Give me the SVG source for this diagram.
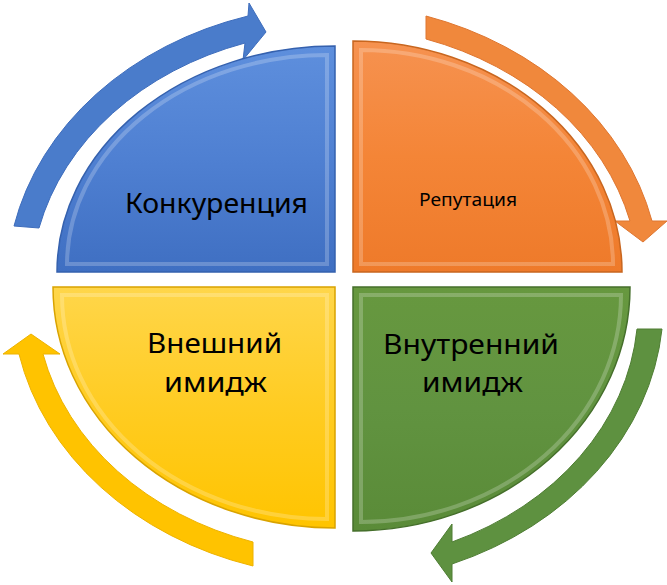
<svg xmlns="http://www.w3.org/2000/svg" width="667" height="585" viewBox="0 0 667 585">
<defs>
<linearGradient id="gBlue" x1="0" y1="0" x2="0" y2="1"><stop offset="0" stop-color="#5E8FDD"/><stop offset="0.5" stop-color="#4F80D2"/><stop offset="1" stop-color="#3F6FC2"/></linearGradient>
<linearGradient id="gOrange" x1="0" y1="0" x2="0" y2="1"><stop offset="0" stop-color="#F69250"/><stop offset="0.5" stop-color="#F48537"/><stop offset="1" stop-color="#EE7A2A"/></linearGradient>
<linearGradient id="gYellow" x1="0" y1="0" x2="0" y2="1"><stop offset="0" stop-color="#FFD64A"/><stop offset="0.5" stop-color="#FFCC22"/><stop offset="1" stop-color="#FFC400"/></linearGradient>
<linearGradient id="gGreen" x1="0" y1="0" x2="0" y2="1"><stop offset="0" stop-color="#67983F"/><stop offset="0.5" stop-color="#619340"/><stop offset="1" stop-color="#5A8B38"/></linearGradient>
<style>
.lbl{font-family:"Noto Sans","Liberation Sans",sans-serif;fill:#000;text-anchor:middle}
.big{font-size:28px}
.small{font-size:18px}
.bevel{fill:none;stroke:#ffffff;stroke-opacity:0.22;stroke-width:4}
.arrow{stroke-width:1}
</style>
</defs>

<g id="connectors">
<path class="arrow" fill="#4A7CCB" stroke="#3E6DBC" d="M14,226 A335,280 0 0 1 248,16 L249,3 L266,32 L243,60 L245,43 A310,256 0 0 0 39,228 Z"/>
<path class="arrow" fill="#F0883C" stroke="#DE7630" d="M426,16 A335,280 0 0 1 652,221 L667,221 L643,242 L615,221 L630,221 A310,256 0 0 0 426,39 Z"/>
<path class="arrow" fill="#5E9140" stroke="#4E7D33" d="M662,329 A335,280 0 0 1 452,564 L452,582 L431,553 L452,524 L452,542 A310,256 0 0 0 637,329 Z"/>
<path class="arrow" fill="#FFC300" stroke="#EDB200" d="M253,566 A335,280 0 0 1 19,354 L3,354 L31,334 L60,354 L43,354 A310,256 0 0 0 253,542 Z"/>
</g>

<g id="node-konkurenciya">
<path fill="url(#gBlue)" stroke="#3561AE" stroke-width="1.5" d="M335,272 L57,272 A278,226 0 0 1 335,46 Z"/>
<path class="bevel" d="M327,264 L67,264 A260,210 0 0 1 327,55 Z"/>
<text class="lbl big" x="216.5" y="213" textLength="183" lengthAdjust="spacingAndGlyphs">Конкуренция</text>
</g>

<g id="node-reputaciya">
<path fill="url(#gOrange)" stroke="#C8661F" stroke-width="1.5" d="M353,272 L353,41 A269,231 0 0 1 622,272 Z"/>
<path class="bevel" d="M361,264 L361,50 A252,215 0 0 1 613,264 Z"/>
<text class="lbl small" x="468" y="206" textLength="98" lengthAdjust="spacingAndGlyphs">Репутация</text>
</g>

<g id="node-vneshniy">
<path fill="url(#gYellow)" stroke="#D9A300" stroke-width="1.5" d="M335,287 L335,528 A282,241 0 0 1 53,287 Z"/>
<path class="bevel" d="M327,295 L327,519 A265,224 0 0 1 62,295 Z"/>
<text class="lbl big" x="214.5" y="353" textLength="135" lengthAdjust="spacingAndGlyphs">Внешний</text>
<text class="lbl big" x="215.5" y="392" textLength="103" lengthAdjust="spacingAndGlyphs">имидж</text>
</g>

<g id="node-vnutrenniy">
<path fill="url(#gGreen)" stroke="#456F2B" stroke-width="1.5" d="M353,287 L630,287 A277,244 0 0 1 353,531 Z"/>
<path class="bevel" d="M361,295 L621,295 A260,227 0 0 1 361,522 Z"/>
<text class="lbl big" x="471" y="354" textLength="176" lengthAdjust="spacingAndGlyphs">Внутренний</text>
<text class="lbl big" x="472.5" y="392" textLength="101" lengthAdjust="spacingAndGlyphs">имидж</text>
</g>
</svg>
